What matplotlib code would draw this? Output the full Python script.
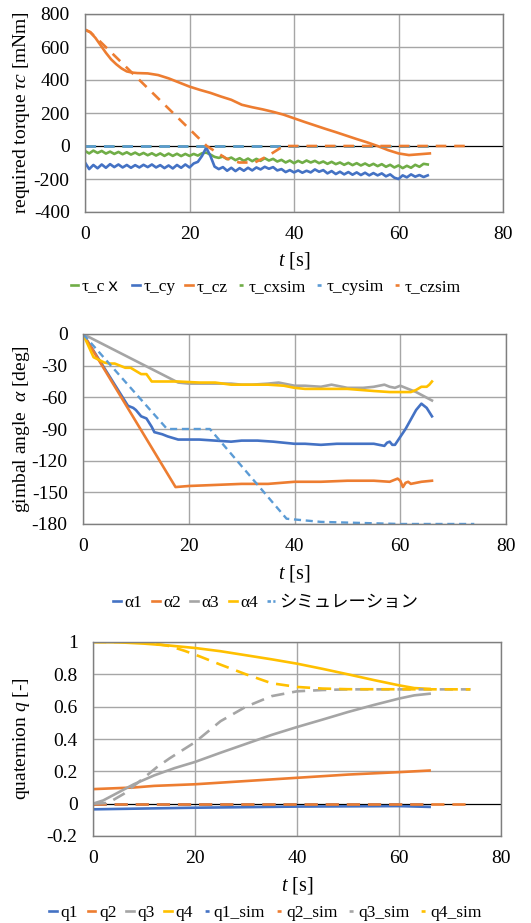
import matplotlib

matplotlib.use("Agg")
import matplotlib.pyplot as plt
from matplotlib.lines import Line2D
import numpy as np

plt.rcParams["font.family"] = ["Liberation Serif", "Noto Sans CJK JP"]
plt.rcParams["mathtext.fontset"] = "custom"
plt.rcParams["mathtext.rm"] = "Liberation Serif"
plt.rcParams["mathtext.it"] = "Liberation Serif:italic"
plt.rcParams["axes.unicode_minus"] = False

BLUE, ORANGE, GRAY, YELLOW = "#4472C4", "#ED7D31", "#A5A5A5", "#FFC000"
GREEN, LBLUE = "#70AD47", "#5B9BD5"

# ---- panel 1: required torque ----
t_noisy = np.arange(83) * 0.8
tau_cx = [-30, -45, -28, -42, -30, -46, -34, -48, -36, -50, -38, -52, -40, -54,
          -42, -56, -44, -58, -45, -60, -46, -60, -47, -61, -48, -60, -48, -58,
          -44, -40, -52, -66, -72, -64, -80, -70, -86, -74, -90, -76, -92, -78,
          -90, -74, -88, -78, -94, -84, -100, -88, -104, -90, -102, -88, -100,
          -90, -104, -94, -108, -96, -110, -100, -114, -102, -116, -104, -118,
          -106, -120, -108, -122, -110, -126, -114, -130, -118, -134, -120,
          -132, -114, -126, -108, -112]
tau_cy = [-100, -140, -115, -135, -112, -132, -110, -128, -112, -130, -115,
          -132, -116, -130, -114, -128, -112, -130, -116, -134, -118, -136,
          -115, -132, -112, -130, -106, -96, -60, -10, -60, -125, -140, -128,
          -150, -132, -152, -134, -150, -132, -148, -130, -142, -126, -138,
          -128, -148, -140, -158, -146, -160, -148, -162, -150, -160, -142,
          -156, -146, -166, -152, -170, -156, -172, -158, -174, -160, -176,
          -162, -178, -164, -178, -166, -184, -172, -192, -200, -178, -190,
          -172, -186, -176, -188, -178]
t_cz = [0, 1, 2, 3, 4, 5, 6, 7, 8, 9, 10, 12, 14, 16, 18, 20, 22, 24, 26, 28,
        30, 32, 34, 36, 38, 40, 42, 44, 46, 48, 50, 52, 54, 56, 58, 60, 62, 64, 66]
tau_cz = [705, 690, 655, 610, 565, 525, 495, 470, 452, 445, 442, 440, 430, 410,
          385, 360, 340, 322, 300, 280, 250, 235, 222, 207, 190, 168, 146, 125,
          104, 84, 63, 42, 22, 0, -25, -45, -55, -50, -45]
t_czsim = [0, 1, 2, 3, 23.3, 27, 29.5, 32.5, 35, 38, 73]
tau_czsim = [705, 690, 660, 630, 0, -75, -100, -100, -60, 0, 0]
t_sim0 = [0, 66]
tau_cxsim = [0, 0]
tau_cysim = [0, 0]

# ---- panel 2: gimbal angle ----
t_a1 = [0, 8.5, 9.5, 10, 11, 12, 13, 13.5, 15, 16, 18, 20, 22, 25, 28, 30, 33,
        36, 38, 40, 42, 45, 48, 50, 53, 55, 56, 57, 57.5, 58, 58.5, 59, 61, 63,
        64, 65, 66]
a1 = [0, -68, -70, -72, -78, -80, -88, -93, -95, -97, -100, -100, -100, -101,
      -102, -101, -101, -102, -103, -104, -104, -105, -104, -104, -104, -104,
      -105, -106, -103, -102, -105, -105, -90, -72, -66, -70, -78]
t_a2 = [0, 17.5, 20, 25, 30, 35, 40, 45, 50, 55, 58, 59, 59.5, 60, 60.5, 61,
        61.5, 62, 63, 64, 66]
a2 = [0, -145, -144, -143, -142, -142, -140, -140, -139, -139, -140, -138, -137,
      -139, -145, -141, -140, -142, -141, -140, -139]
t_a3 = [0, 18, 20, 22, 25, 28, 30, 32, 35, 37, 40, 42, 45, 47, 50, 53, 55, 57,
        58, 59, 60, 61, 63, 66]
a3 = [0, -46, -47, -47, -47, -47, -48, -48, -47, -46, -49, -49, -50, -48, -51,
      -51, -50, -48, -50, -51, -49, -51, -55, -63]
t_a4 = [0, 2, 4, 5, 6, 7, 8, 9, 10, 11, 12, 13, 15, 18, 22, 25, 28, 32, 35, 38,
        40, 42, 45, 50, 55, 58, 60, 62, 63, 64, 65, 65.5, 66]
a4 = [0, -22, -27, -28, -28, -30, -32, -32, -35, -38, -38, -45, -45, -45, -46,
      -46, -48, -48, -48, -49, -51, -52, -52, -52, -54, -55, -55, -55, -53, -50,
      -50, -48, -45]
t_asim = [0, 15.9, 24, 38.5, 45, 60, 74]
a_sim = [0, -90, -90, -175, -178, -180, -180]

# ---- panel 3: quaternion ----
t_q1 = [0, 20, 40, 60, 66]
q1 = [-0.035, -0.025, -0.018, -0.015, -0.02]
t_q2 = [0, 8, 12, 20, 30, 40, 50, 60, 66]
q2 = [0.09, 0.10, 0.11, 0.12, 0.14, 0.16, 0.18, 0.195, 0.205]
t_q3 = [0, 2, 5, 8, 12, 16, 20, 25, 30, 35, 40, 45, 50, 55, 60, 63, 66]
q3 = [0, 0.02, 0.07, 0.12, 0.175, 0.22, 0.258, 0.315, 0.37, 0.425, 0.474, 0.52,
      0.567, 0.61, 0.65, 0.67, 0.68]
t_q4 = [0, 5, 10, 15, 20, 25, 30, 35, 40, 45, 50, 55, 60, 63, 66]
q4 = [1, 0.998, 0.99, 0.978, 0.963, 0.943, 0.918, 0.893, 0.866, 0.834, 0.800,
      0.765, 0.732, 0.715, 0.71]
t_q1sim = [0, 66]
q1_sim = [0, 0]
t_q2sim = [0, 74]
q2_sim = [0, 0]
t_q3sim = [0, 3, 6, 8, 10, 12.5, 15, 20, 25, 30, 35, 40, 45, 50, 74]
q3_sim = [0, 0.005, 0.06, 0.11, 0.16, 0.225, 0.28, 0.38, 0.51, 0.6, 0.665,
          0.695, 0.703, 0.707, 0.707]
t_q4sim = [0, 10, 12, 15, 16.5, 18, 21, 25, 30, 35, 40, 45, 50, 74]
q4_sim = [1, 1, 0.99, 0.975, 0.96, 0.945, 0.91, 0.86, 0.80, 0.745, 0.722,
          0.712, 0.708, 0.707]

fig = plt.figure(figsize=(5.31, 9.23), dpi=100)
W, H = 531, 923
LW = 1.9


def make_ax(l, r, top, bot):
    return fig.add_axes([l / W, 1 - bot / H, (r - l) / W, (bot - top) / H])


def legend_handles(ax):
    # dashed series show as one short centred dash in the legend, like Excel
    handles, labels = ax.get_legend_handles_labels()
    out = []
    for h in handles:
        if h.get_linestyle() == "-":
            out.append(h)
        else:
            out.append(Line2D([], [], color=h.get_color(), lw=LW,
                              ls=(3.7, (1.5, 3.0))))
    return out, labels


def style(ax, yticks, ylim, ylabel, top, bot, xlab_y, leg_y, ncol, leg_kw=None):
    ax.set_xlim(0, 80)
    ax.set_ylim(*ylim)
    ax.set_xticks([0, 20, 40, 60, 80])
    ax.set_yticks(yticks)
    ax.yaxis.set_major_formatter(matplotlib.ticker.FuncFormatter(lambda v, p: f"{v:g}"))
    ax.grid(True, color="#a6a6a6", lw=1.0)
    ax.set_axisbelow(True)
    ax.tick_params(length=0, labelsize=14)
    ax.tick_params(axis="x", pad=10)
    ax.tick_params(axis="y", pad=11)
    for s in ax.spines.values():
        s.set_color("#7f7f7f")
        s.set_linewidth(1.0)
    ax.set_xlabel("$t$ [s]", fontsize=14.5, va="center")
    pos = ax.get_position()
    ax.xaxis.set_label_coords(pos.x0 + pos.width / 2, 1 - xlab_y / H,
                              transform=fig.transFigure)
    ax.set_ylabel(ylabel, fontsize=14, va="center")
    ax.yaxis.set_label_coords(22 / W, 1 - (top + bot) / 2 / H, transform=fig.transFigure)
    handles, labels = legend_handles(ax)
    ax.legend(handles, labels, loc="center", bbox_to_anchor=(0.5, 1 - leg_y / H),
              bbox_transform=fig.transFigure, ncol=ncol, frameon=False,
              fontsize=12.5, handlelength=0.45, handletextpad=0.2,
              columnspacing=0.55)


# panel 1
ax = make_ax(85, 503, 14, 212)
ax.axhline(0, color="black", lw=0.8, zorder=1)
ax.plot(t_noisy, tau_cx, color=GREEN, lw=LW, label="τ_cｘ")
ax.plot(t_noisy, tau_cy, color=BLUE, lw=LW, label="τ_cy")
ax.plot(t_cz, tau_cz, color=ORANGE, lw=LW, label="τ_cz")
ax.plot(t_sim0, tau_cxsim, color=GREEN, lw=LW, ls=(0, (4, 3)), label="τ_cxsim")
ax.plot(t_sim0, tau_cysim, color=LBLUE, lw=LW, ls=(0, (4, 3)), label="τ_cysim")
ax.plot(t_czsim, tau_czsim, color=ORANGE, lw=LW, ls=(0, (4, 3)), label="τ_czsim")
style(ax, range(-400, 801, 200), (-400, 800), "required torque $\\tau c$ [mNm]",
      14, 212, 260, 287, 6)

# panel 2
ax = make_ax(83, 506, 334, 524)
ax.plot(t_a1, a1, color=BLUE, lw=LW, label="α1")
ax.plot(t_a2, a2, color=ORANGE, lw=LW, label="α2")
ax.plot(t_a3, a3, color=GRAY, lw=LW, label="α3")
ax.plot(t_a4, a4, color=YELLOW, lw=LW, label="α4")
ax.plot(t_asim, a_sim, color=LBLUE, lw=1.7, ls=(0, (3, 2)), label="シミュレーション")
style(ax, range(-180, 1, 30), (-180, 0), "gimbal angle  $\\alpha$ [deg]",
      334, 524, 573, 603, 5)
# the simulation entry in this legend is drawn as "--"
leg = ax.get_legend()
leg.legend_handles[-1].set_linestyle((0, (1.3, 0.9)))

# panel 3
ax = make_ax(93, 501, 642, 836)
ax.axhline(0, color="black", lw=0.8, zorder=1)
ax.plot(t_q1, q1, color=BLUE, lw=LW, label="q1")
ax.plot(t_q2, q2, color=ORANGE, lw=LW, label="q2")
ax.plot(t_q3, q3, color=GRAY, lw=LW, label="q3")
ax.plot(t_q4, q4, color=YELLOW, lw=LW, label="q4")
ax.plot(t_q1sim, q1_sim, color=BLUE, lw=LW, ls=(0, (5, 3)), label="q1_sim")
ax.plot(t_q2sim, q2_sim, color=ORANGE, lw=LW, ls=(0, (5, 3)), label="q2_sim")
ax.plot(t_q3sim, q3_sim, color=GRAY, lw=LW, ls=(0, (5, 3)), label="q3_sim")
ax.plot(t_q4sim, q4_sim, color=YELLOW, lw=LW, ls=(0, (5, 3)), label="q4_sim")
style(ax, np.round(np.arange(-0.2, 1.01, 0.2), 1), (-0.2, 1), "quaternion $q$ [-]",
      642, 836, 885, 913, 8)

fig.savefig("out.png", dpi=100)
